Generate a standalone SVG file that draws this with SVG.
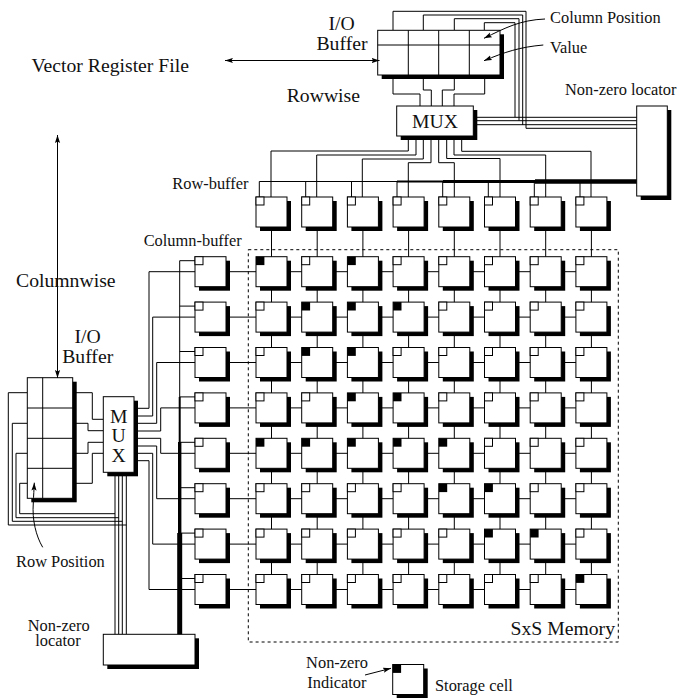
<svg xmlns="http://www.w3.org/2000/svg" width="700" height="698" viewBox="0 0 700 698">
<style>
text{font-family:"Liberation Serif","Times New Roman",serif;fill:#111}
.a{font-size:19.7px}
.b{font-size:16.4px}
.m{text-anchor:middle}
.e{text-anchor:end}
.box{fill:#fff;stroke:#000;stroke-width:1}
.sh{fill:#000}
.w{fill:none;stroke:#000;stroke-width:1}
.ar{fill:none;stroke:#000;stroke-width:1;marker-end:url(#ah)}
.ar2{fill:none;stroke:#000;stroke-width:1;marker-end:url(#ah);marker-start:url(#ah)}
</style>
<defs>
<marker id="ah" markerUnits="userSpaceOnUse" markerWidth="9" markerHeight="6" refX="8" refY="3" orient="auto-start-reverse"><path d="M0,0.4 L8,3 L0,5.6 L1.6,3 Z" fill="#000"/></marker>
<g id="cell"><rect class="sh" x="4" y="4" width="31" height="30"/><rect class="box" width="31" height="30"/><rect class="box" width="8" height="8"/></g>
<g id="cellb"><rect class="sh" x="4" y="4" width="31" height="30"/><rect class="box" width="31" height="30"/><rect x="0" y="0" width="8.4" height="8.4" fill="#000"/></g>
</defs>
<rect width="700" height="698" fill="#fff"/>

<g id="connectors">
<path class="w" d="M226,271.7H591M226,317.1H591M226,362.5H591M226,407.9H591M226,453.3H591M226,498.7H591M226,544.1H591M226,589.5H591"/>
<path class="w" d="M271.5,227V575M317.2,227V575M362.9,227V575M408.6,227V575M454.3,227V575M500,227V575M545.7,227V575M591.4,227V575"/>
<path class="w" d="M408.3,136V151H271V197M416,136V155H316.7V197M423.3,136V159H362.3V197M431,136V162.7H408.3V197M438.7,136V162.7H454.3V197M446.7,136V158.5H500V197M454,136V155H545.7V197M461.7,136V151.3H591V197"/>
<path class="w" d="M259.3,197V181.5H397M305.7,181.5V197M351.5,181.5V197M397,181.5V197M442.7,181.5V197M488.3,181.5V197M534.3,181.5V197M580,181.5V197"/>
<path fill="none" stroke="#000" stroke-width="2" d="M397,181.5H443"/>
<path fill="none" stroke="#000" stroke-width="3" d="M443,181.5H535"/>
<path fill="none" stroke="#000" stroke-width="4.4" d="M535,181.5H637"/>
<path class="w" d="M393,75V94H420V106M423.3,75V90H431.3V106M454.3,75V90H442.3V106M484.7,75V94H454V106"/>
<path class="w" d="M393,30V11.3H526V128.3H637M423.3,30V15H522.7V125M454.3,30V18.7H519V120.7M484.3,30V22.7H515V117.3M473,117.3H637M473,120.7H637M473,124.7H637"/>
<path class="w" d="M134,408.3H149V271.7H195M134,416H152.7V317.1H195M134,423.3H156.7V362.5H195M134,431H160.7V407.9H195M134,438.3H160.7V453.3H195M134,446H156.7V498.7H195M134,453.3H152.7V544.1H195M134,460.7H149V589.5H195"/>
<path class="w" d="M195,260.7H179.7V397M179.7,306.1H195M179.7,351.5H195M179.7,396.9H195M179.7,442.3H195M179.7,487.7H195M179.7,533.1H195M179.7,578.5H195"/>
<path fill="none" stroke="#000" stroke-width="2" d="M179.7,397V442"/>
<path fill="none" stroke="#000" stroke-width="3.4" d="M179.7,442V533"/>
<path fill="none" stroke="#000" stroke-width="5" d="M179.7,533V635"/>
<path class="w" d="M72.7,392.7H92.3V419.3H103.3M72.7,423.3H88V430.7H103.3M72.7,453.3H88V442.3H103.3M72.7,483.3H92.3V453.3H103.3"/>
<path class="w" d="M27.3,392.7H8.3V525H126.3M27.3,423.3H12.3V521.3H122.3M27.3,453.3H16V517.7H118.7M27.3,483.3H19.7V513.7H115M115,472V634.3M118.7,472V634.3M122.3,472V634.3M126.3,472V634.3"/>
</g>

<g id="memory-region"><rect x="248.3" y="249.7" width="370" height="392.3" fill="none" stroke="#000" stroke-dasharray="3 3"/></g>

<g id="register-top"><rect class="sh" x="381.7" y="34.3" width="122.3" height="44.7"/><rect class="box" x="377.7" y="30.3" width="122.3" height="44.7"/><path class="w" d="M377.7,45H500M408.3,30.3V75M438.7,30.3V75M469.3,30.3V75"/></g>
<g id="mux-top"><rect class="sh" x="400.7" y="110" width="76.6" height="30"/><rect class="box" x="396.7" y="106" width="76.6" height="30"/><text class="a m" x="435" y="128">MUX</text></g>
<g id="locator-right"><rect class="sh" x="640.7" y="110" width="30.6" height="90"/><rect class="box" x="636.7" y="106" width="30.6" height="90"/></g>
<g id="register-left"><rect class="sh" x="31.3" y="381.7" width="45.4" height="120.6"/><rect class="box" x="27.3" y="377.7" width="45.4" height="120.6"/><path class="w" d="M42.7,377.7V498.3M27.3,408H72.7M27.3,438.3H72.7M27.3,468.3H72.7"/></g>
<g id="mux-left"><rect class="sh" x="107.3" y="400.7" width="30.7" height="75.6"/><rect class="box" x="103.3" y="396.7" width="30.7" height="75.6"/><text class="a m" y="423"><tspan x="118.7">M</tspan><tspan x="118.7" y="442">U</tspan><tspan x="118.7" y="461.5">X</tspan></text></g>
<g id="locator-bottom"><rect class="sh" x="107.3" y="638.3" width="91.7" height="30.7"/><rect class="box" x="103.3" y="634.3" width="91.7" height="30.7"/></g>

<g id="row-buffers">
<use href="#cell" x="256" y="197"/><use href="#cell" x="301.7" y="197"/><use href="#cell" x="347.4" y="197"/><use href="#cell" x="393.1" y="197"/><use href="#cell" x="438.8" y="197"/><use href="#cell" x="484.5" y="197"/><use href="#cell" x="530.2" y="197"/><use href="#cell" x="575.9" y="197"/>
</g>
<g id="column-buffers">
<use href="#cell" x="195" y="256.7"/><use href="#cell" x="195" y="302.1"/><use href="#cell" x="195" y="347.5"/><use href="#cell" x="195" y="392.9"/><use href="#cell" x="195" y="438.3"/><use href="#cell" x="195" y="483.7"/><use href="#cell" x="195" y="529.1"/><use href="#cell" x="195" y="574.5"/>
</g>
<g id="memory-cells">
<use href="#cellb" x="256" y="256.7"/><use href="#cell" x="301.7" y="256.7"/><use href="#cellb" x="347.4" y="256.7"/><use href="#cell" x="393.1" y="256.7"/><use href="#cell" x="438.8" y="256.7"/><use href="#cell" x="484.5" y="256.7"/><use href="#cell" x="530.2" y="256.7"/><use href="#cell" x="575.9" y="256.7"/>
<use href="#cell" x="256" y="302.1"/><use href="#cellb" x="301.7" y="302.1"/><use href="#cellb" x="347.4" y="302.1"/><use href="#cellb" x="393.1" y="302.1"/><use href="#cell" x="438.8" y="302.1"/><use href="#cell" x="484.5" y="302.1"/><use href="#cell" x="530.2" y="302.1"/><use href="#cell" x="575.9" y="302.1"/>
<use href="#cell" x="256" y="347.5"/><use href="#cellb" x="301.7" y="347.5"/><use href="#cellb" x="347.4" y="347.5"/><use href="#cell" x="393.1" y="347.5"/><use href="#cell" x="438.8" y="347.5"/><use href="#cell" x="484.5" y="347.5"/><use href="#cell" x="530.2" y="347.5"/><use href="#cell" x="575.9" y="347.5"/>
<use href="#cell" x="256" y="392.9"/><use href="#cell" x="301.7" y="392.9"/><use href="#cellb" x="347.4" y="392.9"/><use href="#cellb" x="393.1" y="392.9"/><use href="#cell" x="438.8" y="392.9"/><use href="#cell" x="484.5" y="392.9"/><use href="#cell" x="530.2" y="392.9"/><use href="#cell" x="575.9" y="392.9"/>
<use href="#cellb" x="256" y="438.3"/><use href="#cellb" x="301.7" y="438.3"/><use href="#cellb" x="347.4" y="438.3"/><use href="#cellb" x="393.1" y="438.3"/><use href="#cellb" x="438.8" y="438.3"/><use href="#cell" x="484.5" y="438.3"/><use href="#cell" x="530.2" y="438.3"/><use href="#cell" x="575.9" y="438.3"/>
<use href="#cell" x="256" y="483.7"/><use href="#cell" x="301.7" y="483.7"/><use href="#cell" x="347.4" y="483.7"/><use href="#cell" x="393.1" y="483.7"/><use href="#cellb" x="438.8" y="483.7"/><use href="#cellb" x="484.5" y="483.7"/><use href="#cell" x="530.2" y="483.7"/><use href="#cell" x="575.9" y="483.7"/>
<use href="#cell" x="256" y="529.1"/><use href="#cell" x="301.7" y="529.1"/><use href="#cell" x="347.4" y="529.1"/><use href="#cell" x="393.1" y="529.1"/><use href="#cell" x="438.8" y="529.1"/><use href="#cellb" x="484.5" y="529.1"/><use href="#cellb" x="530.2" y="529.1"/><use href="#cell" x="575.9" y="529.1"/>
<use href="#cell" x="256" y="574.5"/><use href="#cell" x="301.7" y="574.5"/><use href="#cell" x="347.4" y="574.5"/><use href="#cell" x="393.1" y="574.5"/><use href="#cell" x="438.8" y="574.5"/><use href="#cell" x="484.5" y="574.5"/><use href="#cell" x="530.2" y="574.5"/><use href="#cellb" x="575.9" y="574.5"/>
</g>
<g id="legend-cell"><use href="#cellb" x="392.7" y="664.5"/></g>

<g id="annotation-arrows">
<path class="ar2" d="M225,60.5H379.5"/>
<path class="ar2" d="M57.5,135V378"/>
<path class="ar" d="M545,19C520,20 505,28 484,38.3"/>
<path class="ar" d="M543.3,45C520,47 505,52 484,60.7"/>
<path class="ar" d="M42.7,547.3C36,536 32,520 33.3,503C33.6,495 34,490 34.3,482.7"/>
<path class="ar" d="M365,675L391,668.3"/>
</g>

<g id="labels">
<text class="a m" y="30"><tspan x="341.7">I/O</tspan><tspan x="342" y="49.5">Buffer</tspan></text>
<text class="a" x="31.5" y="72">Vector Register File</text>
<text class="a" x="286.7" y="102">Rowwise</text>
<text class="b" x="550" y="23">Column Position</text>
<text class="b" x="550" y="53">Value</text>
<text class="b" x="565" y="94.5">Non-zero locator</text>
<text class="b" x="172.3" y="189">Row-buffer</text>
<text class="b e" x="241.7" y="246">Column-buffer</text>
<text class="a" x="16" y="287">Columnwise</text>
<text class="a m" y="342.5"><tspan x="87.7">I/O</tspan><tspan x="87.7" y="363">Buffer</tspan></text>
<text class="b" x="16" y="566.5">Row Position</text>
<text class="b m" y="631"><tspan x="58.7">Non-zero</tspan><tspan x="58" y="645.5">locator</tspan></text>
<text class="a e" x="615" y="635">SxS Memory</text>
<text class="b e" y="668"><tspan x="368">Non-zero</tspan><tspan x="366.5" y="688">Indicator</tspan></text>
<text class="b" x="435" y="690.5">Storage cell</text>
</g>
</svg>
